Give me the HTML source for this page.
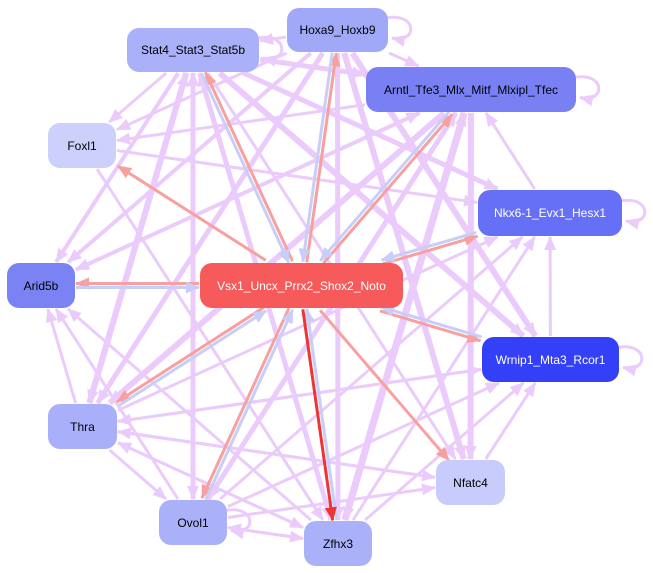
<!DOCTYPE html>
<html><head><meta charset="utf-8"><style>
html,body{margin:0;padding:0;background:#fff;}
svg{display:block}
text{font-family:"Liberation Sans",Arial,sans-serif;font-size:12px;}
</style></head><body>
<svg id="g" width="653" height="573" viewBox="0 0 653 573" xmlns="http://www.w3.org/2000/svg">
<defs>
<marker id="mL" markerUnits="userSpaceOnUse" markerWidth="14" markerHeight="12" refX="13" refY="6" orient="auto"><path d="M0,0L14,6L0,12z" fill="#ebcbfb"/></marker>
<marker id="mR" markerUnits="userSpaceOnUse" markerWidth="14" markerHeight="12" refX="13" refY="6" orient="auto"><path d="M0,0L14,6L0,12z" fill="#f8a0a0"/></marker>
<marker id="mB" markerUnits="userSpaceOnUse" markerWidth="14" markerHeight="12" refX="13" refY="6" orient="auto"><path d="M0,0L14,6L0,12z" fill="#c8cef8"/></marker>
<marker id="mD" markerUnits="userSpaceOnUse" markerWidth="14" markerHeight="12" refX="13" refY="6" orient="auto"><path d="M0,0L14,6L0,12z" fill="#f03333"/></marker>
</defs>
<g id="edges"></g>
<g id="nodes">
<rect x="287" y="8" width="101" height="44" rx="12" fill="#a0a8f8"/><text x="337.5" y="34" text-anchor="middle">Hoxa9_Hoxb9</text>
<rect x="127" y="28" width="132" height="44" rx="12" fill="#aab1f9"/><text x="193" y="54" text-anchor="middle">Stat4_Stat3_Stat5b</text>
<rect x="366" y="67" width="210" height="45" rx="12" fill="#7980f4"/><text x="471" y="94" text-anchor="middle">Arntl_Tfe3_Mlx_Mitf_Mlxipl_Tfec</text>
<rect x="48" y="123" width="68" height="45" rx="12" fill="#cdd0fb"/><text x="82" y="150" text-anchor="middle">Foxl1</text>
<rect x="478" y="190" width="144" height="46" rx="12" fill="#6670f6"/><text x="550" y="217" text-anchor="middle" fill="#fff">Nkx6-1_Evx1_Hesx1</text>
<rect x="7" y="263" width="68" height="45" rx="12" fill="#7a82f4"/><text x="41" y="290" text-anchor="middle">Arid5b</text>
<rect x="200" y="263" width="203" height="45" rx="12" fill="#f75a5a"/><text x="301.5" y="290" text-anchor="middle" fill="#fff">Vsx1_Uncx_Prrx2_Shox2_Noto</text>
<rect x="482" y="337" width="137" height="45" rx="12" fill="#3340f8"/><text x="550.5" y="364" text-anchor="middle" fill="#fff">Wrnip1_Mta3_Rcor1</text>
<rect x="48" y="404" width="69" height="45" rx="12" fill="#a9aff9"/><text x="82.5" y="431" text-anchor="middle">Thra</text>
<rect x="436" y="460" width="69" height="45" rx="12" fill="#c8ccfc"/><text x="470.5" y="487" text-anchor="middle">Nfatc4</text>
<rect x="159" y="500" width="68" height="45" rx="12" fill="#abb1f9"/><text x="193" y="527" text-anchor="middle">Ovol1</text>
<rect x="304" y="521" width="68" height="45" rx="12" fill="#abb1f9"/><text x="338" y="548" text-anchor="middle">Zfhx3</text>
</g>
</svg>
<script>
var N={H:[287,8,101,44],S:[127,28,132,44],A:[366,67,210,45],F:[48,123,68,45],N:[478,190,144,46],Ar:[7,263,68,45],V:[200,263,203,45],W:[482,337,137,45],T:[48,404,69,45],Nf:[436,460,69,45],O:[159,500,68,45],Z:[304,521,68,45]};
function c(k){var r=N[k];return [r[0]+r[2]/2,r[1]+r[3]/2];}
function clip(k,dx,dy){var r=N[k];var hw=r[2]/2+1,hh=r[3]/2+1;return Math.min(Math.abs(dx)>1e-6?hw/Math.abs(dx):1e9,Math.abs(dy)>1e-6?hh/Math.abs(dy):1e9);}
var g=document.getElementById('edges'),ns='http://www.w3.org/2000/svg';
function e(a,b,col,w,off){var p=c(a),q=c(b);var dx=q[0]-p[0],dy=q[1]-p[1];var L=Math.hypot(dx,dy);var nx=-dy/L*(off||0),ny=dx/L*(off||0);
var t1=clip(a,dx,dy),t2=clip(b,-dx,-dy);
var x1=p[0]+dx*t1+nx,y1=p[1]+dy*t1+ny,x2=q[0]-dx*t2+nx,y2=q[1]-dy*t2+ny;
var l=document.createElementNS(ns,'line');l.setAttribute('x1',x1);l.setAttribute('y1',y1);l.setAttribute('x2',x2);l.setAttribute('y2',y2);
var cm={L:'#ebcbfb',R:'#f8a0a0',B:'#c8cef8',D:'#f03333'};l.setAttribute('stroke',cm[col]);l.setAttribute('stroke-width',w||3);l.setAttribute('marker-end','url(#m'+col+')');g.appendChild(l);}
function loop(k){var r=N[k];var x=r[0]+r[2],y=r[1]+r[3]/2;var p=document.createElementNS(ns,'path');p.setAttribute('d','M'+(x-2)+','+(y-12)+' C'+(x+30)+','+(y-18)+' '+(x+30)+','+(y+14)+' '+(x+4)+','+(y+8));p.setAttribute('fill','none');p.setAttribute('stroke','#ebcbfb');p.setAttribute('stroke-width',3);p.setAttribute('marker-end','url(#mL)');g.appendChild(p);}
var L=[['S','F',3],['S','Ar',4],['S','T',6],['S','O',5],['S','Z',5],['S','N',5],['S','W',6],['S','A',5],['H','S',3],['H','A',3],['H','F',3],['H','Ar',4],['H','T',5],['H','Nf',6],['H','W',6],['H','Z',5],['A','F',3],['A','Ar',4],['A','T',6],['A','Z',7],['A','O',5],['A','Nf',6],['N','A',3],['F','N',3],['F','Z',3],['W','N',3],['W','T',3],['T','Ar',3],['T','S',6],['T','W',3],['T','N',3],['T','Nf',3],['T','O',3],['T','Z',3],['O','W',3],['O','N',3],['O','Nf',3],['O','Z',3],['O','Ar',3],['O','A',4],['O','S',4],['Z','S',4],['Z','A',7],['Z','N',3],['Z','W',3],['Z','Ar',3],['Z','T',3],['Z','O',3],['Nf','W',3],['Nf','T',3],['Ar','A',3],['S','Nf',3]];
L.forEach(function(x){e(x[0],x[1],'L',x[2],0);});
['Ar','S','H','A','N','W','T','O','F','Nf'].forEach(function(k){e('V',k,'R',3,2);});
['Ar','S','H','A','N','W','T','O','Z'].forEach(function(k){e(k,'V','B',3,2);});
e('V','Z','D',3,2);
['H','S','A','N','W','O'].forEach(loop);
</script>
</body></html>
